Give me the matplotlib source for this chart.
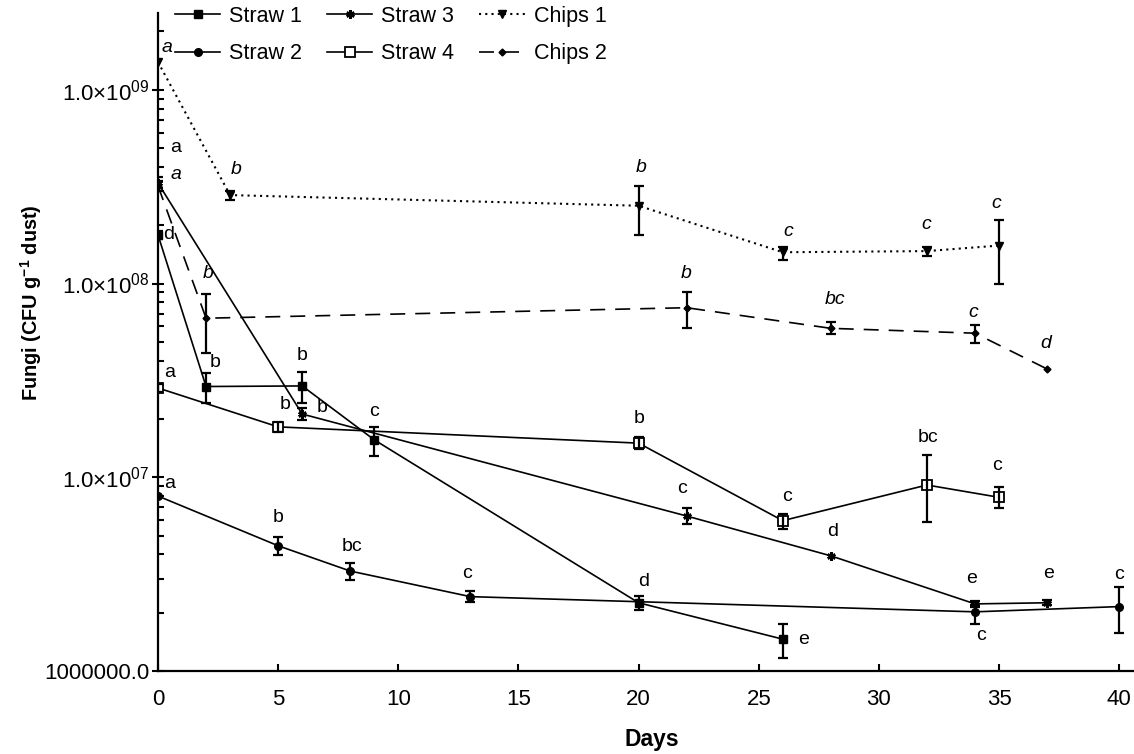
import numpy as np
import matplotlib.pyplot as plt
from matplotlib.ticker import LogLocator, NullFormatter

plt.rcParams['font.family'] = ['Liberation Sans', 'DejaVu Sans']
plt.rcParams['mathtext.fontset'] = 'custom'
plt.rcParams['mathtext.rm'] = 'Liberation Sans'
plt.rcParams['mathtext.it'] = 'Liberation Sans:italic'
plt.rcParams['mathtext.bf'] = 'Liberation Sans:bold'

# values (CFU g-1 dust); lo/hi are the error bar ends, nan = no bar
straw1_days = [0, 2, 6, 9, 20, 26]
straw1_cfu = [1.78e8, 2.94e7, 2.96e7, 1.56e7, 2.25e6, 1.46e6]
straw1_lo = [1.70e8, 2.41e7, 2.41e7, 1.28e7, 2.07e6, 1.17e6]
straw1_hi = [1.86e8, 3.47e7, 3.51e7, 1.81e7, 2.44e6, 1.75e6]
straw1_letters = ['d', 'b', 'b', 'c', 'd', 'e']

straw2_days = [0, 5, 8, 13, 34, 40]
straw2_cfu = [8.0e6, 4.43e6, 3.28e6, 2.42e6, 2.02e6, 2.15e6]
straw2_lo = [np.nan, 3.95e6, 2.95e6, 2.27e6, 1.74e6, 1.58e6]
straw2_hi = [np.nan, 4.93e6, 3.62e6, 2.59e6, 2.19e6, 2.70e6]
straw2_letters = ['a', 'b', 'bc', 'c', 'c', 'c']

straw3_days = [0, 6, 22, 28, 34, 37]
straw3_cfu = [3.30e8, 2.12e7, 6.31e6, 3.93e6, 2.22e6, 2.25e6]
straw3_lo = [3.10e8, 1.98e7, 5.74e6, np.nan, 2.15e6, 2.18e6]
straw3_hi = [3.55e8, 2.28e7, 6.93e6, np.nan, 2.30e6, 2.32e6]
straw3_letters = ['a', 'b', 'c', 'd', 'e', 'e']

straw4_days = [0, 5, 20, 26, 32, 35]
straw4_cfu = [2.89e7, 1.82e7, 1.50e7, 5.97e6, 9.12e6, 7.88e6]
straw4_lo = [2.75e7, 1.72e7, 1.40e7, 5.41e6, 5.90e6, 6.92e6]
straw4_hi = [3.02e7, 1.92e7, 1.61e7, 6.47e6, 1.30e7, 8.87e6]
straw4_letters = ['a', 'b', 'b', 'c', 'bc', 'c']

chips1_days = [0, 3, 20, 26, 32, 35]
chips1_cfu = [1.39e9, 2.86e8, 2.52e8, 1.45e8, 1.47e8, 1.57e8]
chips1_lo = [np.nan, 2.70e8, 1.78e8, 1.32e8, 1.39e8, 9.96e7]
chips1_hi = [np.nan, 3.00e8, 3.19e8, 1.55e8, 1.54e8, 2.13e8]
chips1_letters = ['a', 'b', 'b', 'c', 'c', 'c']

chips2_days = [0, 2, 22, 28, 34, 37]
chips2_cfu = [3.19e8, 6.62e7, 7.50e7, 5.87e7, 5.54e7, 3.62e7]
chips2_lo = [3.00e8, 4.38e7, 5.92e7, 5.49e7, 4.93e7, np.nan]
chips2_hi = [3.40e8, 8.83e7, 9.08e7, 6.35e7, 6.10e7, np.nan]
chips2_letters = ['a', 'b', 'b', 'bc', 'c', 'd']

# letter placement, pixel offsets from each point (right, up)
straw1_off = [(11, 0), (9, 24), (0, 30), (0, 28), (5, 21), (21, 0)]
straw2_off = [(12, 13), (0, 28), (2, 25), (-3, 23), (6, -24), (0, 32)]
straw3_off = [(18, 36), (20, 7), (-5, 27), (2, 24), (-3, 25), (1, 29)]
straw4_off = [(12, 15), (7, 22), (1, 25), (4, 24), (1, 48), (-2, 32)]
chips1_off = [(9, 15), (6, 26), (3, 38), (5, 21), (-1, 27), (-3, 42)]
chips2_off = [(18, 11), (2, 45), (-1, 34), (4, 29), (-2, 21), (-1, 26)]

series = [
    ('Straw 1', straw1_days, straw1_cfu, straw1_lo, straw1_hi, straw1_letters, straw1_off,
     dict(ls='-', marker='s', ms=6, mfc='k', mec='k'), False),
    ('Straw 2', straw2_days, straw2_cfu, straw2_lo, straw2_hi, straw2_letters, straw2_off,
     dict(ls='-', marker='o', ms=5.5, mfc='k', mec='k'), False),
    ('Straw 3', straw3_days, straw3_cfu, straw3_lo, straw3_hi, straw3_letters, straw3_off,
     dict(ls='-', marker=(6, 2, 0), ms=6, mew=1.8, mec='k'), False),
    ('Straw 4', straw4_days, straw4_cfu, straw4_lo, straw4_hi, straw4_letters, straw4_off,
     dict(ls='-', marker='s', ms=7, mfc='white', mec='k', mew=1.3), False),
    ('Chips 1', chips1_days, chips1_cfu, chips1_lo, chips1_hi, chips1_letters, chips1_off,
     dict(ls=(0, (1, 2)), lw=1.5, marker='v', ms=5.5, mfc='k', mec='k'), True),
    ('Chips 2', chips2_days, chips2_cfu, chips2_lo, chips2_hi, chips2_letters, chips2_off,
     dict(ls=(0, (9, 6)), marker='D', ms=3.5, mfc='k', mec='k'), True),
]

fig = plt.figure(figsize=(11.34, 7.54), dpi=100)
ax = fig.add_axes([158 / 1134, 83 / 754, 976 / 1134, 658 / 754])

for name, days, cfu, lo, hi, letters, offs, style, italic in series:
    days = np.array(days, dtype=float)
    cfu = np.array(cfu)
    lo = np.array(lo)
    hi = np.array(hi)
    kw = dict(color='k', lw=1.2)
    kw.update(style)
    ax.plot(days, cfu, label=name, **kw)
    m = ~np.isnan(lo)
    ax.errorbar(days[m], cfu[m], yerr=[cfu[m] - lo[m], hi[m] - cfu[m]], fmt='none',
                ecolor='k', elinewidth=1.6, capsize=3.5, capthick=1.6)
    for d, v, t, (dx, dy) in zip(days, cfu, letters, offs):
        ax.annotate(t, (d, v), xytext=(dx, dy), textcoords='offset pixels',
                    ha='center', va='center', fontsize=14,
                    style='italic' if italic else 'normal')

ax.set_yscale('log')
ax.set_xlim(0, 976 / 24.03)
ax.set_ylim(1e6, 2.49e9)

ax.set_xticks(range(0, 41, 5))
ax.set_yticks([1e6, 1e7, 1e8, 1e9])
ax.set_yticklabels(['1000000.0', r'1.0$\times$10$^{07}$', r'1.0$\times$10$^{08}$',
                    r'1.0$\times$10$^{09}$'])
ax.yaxis.set_minor_locator(LogLocator(base=10, subs=np.arange(2, 10)))
ax.yaxis.set_minor_formatter(NullFormatter())

ax.tick_params(axis='x', which='major', direction='in', length=5, width=1.5,
               labelsize=16, pad=13)
ax.tick_params(axis='y', which='major', direction='inout', length=8, width=1.5,
               labelsize=16, pad=2)
ax.tick_params(axis='y', which='minor', direction='in', length=4, width=1.5)

for s in ['top', 'right']:
    ax.spines[s].set_visible(False)
for s in ['left', 'bottom']:
    ax.spines[s].set_linewidth(1.6)

ax.set_xlabel('Days', fontsize=16.5, fontweight='bold')
ax.xaxis.set_label_coords(0.506, -0.087)
ax.set_ylabel(r'Fungi (CFU g$^{\mathbf{-1}}$ dust)', fontsize=14.3, fontweight='bold')
ax.yaxis.set_label_coords(-0.117, 0.559)

ax.legend(loc='upper left', bbox_to_anchor=(175 / 1134, 1 - 6 / 754),
          bbox_transform=fig.transFigure, ncol=3, frameon=False, fontsize=15.5,
          handlelength=2.1, handletextpad=0.42, columnspacing=1.16,
          labelspacing=0.75, borderpad=0, borderaxespad=0)

fig.savefig('out.png', dpi=100)
